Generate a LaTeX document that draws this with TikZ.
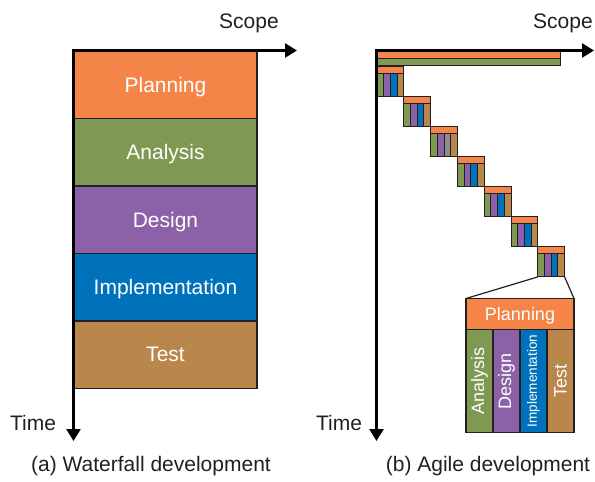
\documentclass[tikz,border=0pt]{standalone}
\usepackage{fontspec}
\setmainfont{Liberation Sans}
\usetikzlibrary{arrows.meta, positioning}
\definecolor{plan}{RGB}{245,132,72}
\definecolor{ana}{RGB}{128,153,82}
\definecolor{des}{RGB}{139,98,168}
\definecolor{impl}{RGB}{0,114,187}
\definecolor{tst}{RGB}{185,134,75}
\definecolor{idle}{RGB}{140,140,140}
\definecolor{ink}{RGB}{35,31,32}

\begin{document}
\begin{tikzpicture}[x=1pt, y=-1pt,
      phase/.style = {draw=ink, line width=1.2pt, text=white, outer sep=0pt, inner sep=0pt,
                      font=\fontsize{21}{24}\selectfont},
      stage/.style = {phase, text depth=0pt, minimum width=183pt, minimum height=67.5pt},
      zcol/.style  = {phase, rotate=90, anchor=north east, minimum width=103pt, minimum height=27pt,
                      font=\fontsize{18}{20}\selectfont},
        bar/.style = {draw=ink, line width=1pt, outer sep=0pt, inner sep=0pt, anchor=north west},
       cell/.style = {bar, minimum width=6.7pt, minimum height=23pt},
       axis/.style = {line width=2.5pt, {Triangle[length=12pt, width=14pt]}-{Triangle[length=12pt, width=14pt]}},
        lbl/.style = {text=ink, font=\fontsize{21}{24}\selectfont},
  node distance = 0pt]
  \useasboundingbox (0,0) rectangle (595,482);

  \node[stage, fill=plan] (plan) at (165.5,84.75) {Planning};
  \node[stage, fill=ana, below=of plan] (ana) {Analysis};
  \node[stage, fill=des, below=of ana] (des) {Design};
  \node[stage, fill=impl, below=of des] (impl) {Implementation};
  \node[stage, fill=tst, below=of impl] (tst) {Test};

  \coordinate (o1) at (73.5,50.5);
  \coordinate (s1) at (297,50.5);
  \coordinate (t1) at (73.5,441);
  \draw[axis] (s1) -- (o1) -- (t1);
  \node[lbl] (scope1) at (249,23) {Scope};
  \node[lbl] (time1) at (33,423) {Time};
  \node[lbl] (capa) at (151,466) {(a) Waterfall development};

  \node[bar, fill=plan, minimum width=183pt, minimum height=7pt] (pall) at (377,51) {};
  \node[bar, fill=ana, minimum width=183pt, minimum height=7pt] (aall) at (pall.south west) {};
  \foreach \k/\c in {0/impl,1/impl,2/idle,3/impl,4/impl,5/impl,6/impl} {
    \node[bar, fill=plan, minimum width=26.8pt, minimum height=7pt] (p\k) at ({377+26.8*\k},{66+30.15*\k}) {};
    \node[cell, fill=ana] (a\k) at (p\k.south west) {};
    \node[cell, fill=des] (d\k) at (a\k.north east) {};
    \node[cell, fill=\c] (i\k) at (d\k.north east) {};
    \node[cell, fill=tst] (e\k) at (i\k.north east) {};
  }

  \node[phase, fill=plan, anchor=north west, text depth=0pt, minimum width=108pt, minimum height=31pt,
        font=\fontsize{18}{20}\selectfont] (zp) at (466,298.5) {Planning};
  \node[zcol, fill=ana] (za) at (zp.south west) {Analysis};
  \node[zcol, fill=des] (zd) at (za.south east) {Design};
  \node[zcol, fill=impl, font=\fontsize{13.5}{16}\selectfont] (zi) at (zd.south east) {Implementation};
  \node[zcol, fill=tst] (zt) at (zi.south east) {Test};
  \draw[draw=ink, line width=1.2pt] (a6.south west) -- (zp.north west)
                                    (e6.south east) -- (zp.north east);

  \coordinate (o2) at (376.5,50.5);
  \coordinate (s2) at (594,50.5);
  \coordinate (t2) at (376.5,441);
  \draw[axis] (s2) -- (o2) -- (t2);
  \node[lbl] (scope2) at (563,23) {Scope};
  \node[lbl] (time2) at (339,423) {Time};
  \node[lbl] (capb) at (488,466) {(b) Agile development};
\end{tikzpicture}
\end{document}
